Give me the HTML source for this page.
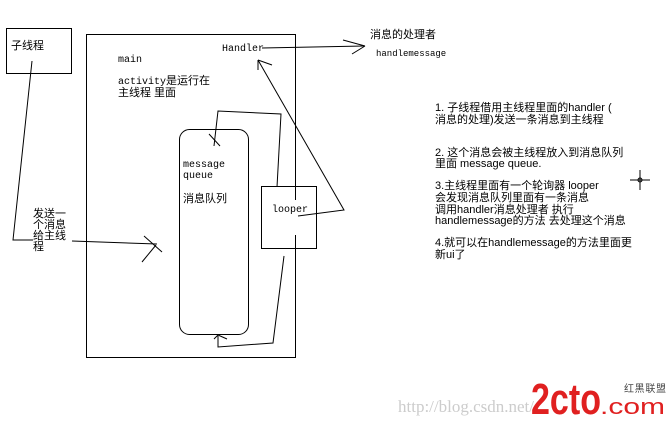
<!DOCTYPE html>
<html><head><meta charset="utf-8"><style>
html,body{margin:0;padding:0;background:#fff;}
svg{display:block;}
text{font-family:"Liberation Mono","Noto Sans CJK SC",monospace;font-size:10px;fill:#000;}
.c{font-family:"Liberation Sans","Noto Sans CJK SC",sans-serif;font-size:11px;}
</style></head><body>
<svg width="670" height="425" viewBox="0 0 670 425" xmlns="http://www.w3.org/2000/svg">
<g fill="none" stroke="#000" stroke-width="1">
<rect x="6.5" y="28.5" width="65" height="45"/>
<rect x="86.5" y="34.5" width="209" height="323"/>
<rect x="179.5" y="129.5" width="69" height="205" rx="10"/>
<rect x="261.5" y="186.5" width="55" height="62" fill="#fff"/>
<line x1="295.5" y1="186" x2="295.5" y2="200"/>
<line x1="295.5" y1="235" x2="295.5" y2="249"/>
<polyline points="32,61 13,240 33,240"/>
<line x1="72" y1="241" x2="157" y2="244"/>
<line x1="144" y1="236" x2="162" y2="252"/>
<line x1="142" y1="262" x2="156" y2="245"/>
<line x1="262" y1="48" x2="364" y2="46"/>
<line x1="343" y1="40" x2="365" y2="46"/>
<line x1="352" y1="54" x2="365" y2="46"/>
<polyline points="298,216 344,210 258,60"/>
<line x1="258" y1="60" x2="258" y2="70"/>
<line x1="258" y1="60" x2="272" y2="65"/>
<polyline points="277,187 281,114 218,111 214,146"/>
<line x1="209" y1="134" x2="220" y2="146"/>
<polyline points="284,256 273,343 218,347 218,336"/>
<line x1="214" y1="339" x2="218" y2="335"/>
<line x1="218" y1="335" x2="227" y2="339"/>
<line x1="640" y1="170" x2="640" y2="190"/>
<line x1="630" y1="180" x2="650" y2="180"/>
</g>
<circle cx="640" cy="180" r="2" fill="none" stroke="#000"/>
<text class="c" x="11" y="49">子线程</text>
<text x="118" y="62">main</text>
<text x="118" y="84">activity<tspan class="c">是运行在</tspan></text>
<text class="c" x="118" y="96">主线程 里面</text>
<text x="222" y="51">Handler</text>
<text class="c" x="370" y="38">消息的处理者</text>
<text x="376" y="56" style="font-size:9px">handlemessage</text>
<text x="183" y="167">message</text>
<text x="183" y="178">queue</text>
<text class="c" x="183" y="202">消息队列</text>
<text x="272" y="212">looper</text>
<text class="c" x="33" y="217">发送一</text>
<text class="c" x="33" y="228">个消息</text>
<text class="c" x="33" y="239">给主线</text>
<text class="c" x="33" y="250">程</text>
<text class="c" x="435" y="111">1. 子线程借用主线程里面的handler (</text>
<text class="c" x="435" y="123">消息的处理)发送一条消息到主线程</text>
<text class="c" x="435" y="156">2. 这个消息会被主线程放入到消息队列</text>
<text class="c" x="435" y="167">里面 message queue.</text>
<text class="c" x="435" y="189">3.主线程里面有一个轮询器 looper</text>
<text class="c" x="435" y="201">会发现消息队列里面有一条消息</text>
<text class="c" x="435" y="213">调用handler消息处理者 执行</text>
<text class="c" x="435" y="224">handlemessage的方法 去处理这个消息</text>
<text class="c" x="435" y="246">4.就可以在handlemessage的方法里面更</text>
<text class="c" x="435" y="258">新ui了</text>
<text x="398" y="412" style="font-family:'Liberation Serif',serif;font-size:17px;fill:#ccc">http://blog.csdn.net/</text>
<text x="531" y="414" textLength="70" lengthAdjust="spacingAndGlyphs" style="font-family:'Liberation Sans',sans-serif;font-size:44px;font-weight:bold;fill:#e02020">2cto</text>
<text x="624" y="392" style="font-family:'Noto Sans CJK SC',sans-serif;font-size:10px;fill:#444" textLength="42">红黑联盟</text>
<text x="600" y="414" textLength="65" lengthAdjust="spacingAndGlyphs" style="font-family:'Liberation Sans',sans-serif;font-size:22px;fill:#e02020">.com</text>
</svg>
</body></html>
